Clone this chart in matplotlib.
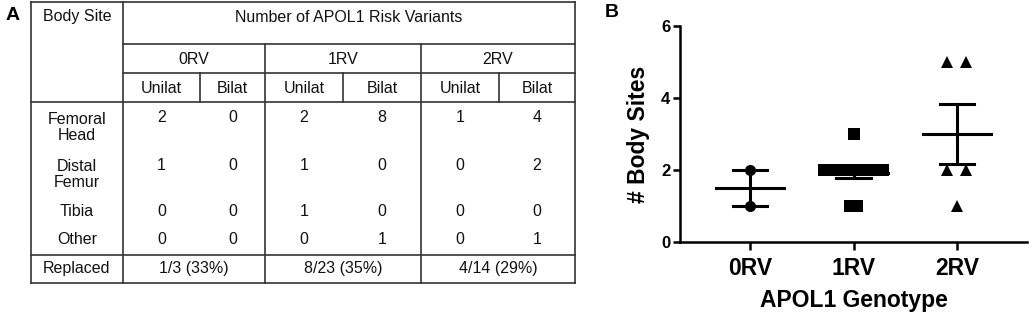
import numpy as np
import matplotlib
matplotlib.use("Agg")
import matplotlib.pyplot as plt

plt.rcParams['font.family'] = ['Liberation Sans', 'DejaVu Sans']

# ---------------- data ----------------
body_sites = ["Femoral\nHead", "Distal\nFemur", "Tibia", "Other"]
genotypes = ["0RV", "1RV", "2RV"]
laterality = ["Unilat", "Bilat"]
counts = [
    [2, 0, 2, 8, 1, 4],
    [1, 0, 1, 0, 0, 2],
    [0, 0, 1, 0, 0, 0],
    [0, 0, 0, 1, 0, 1],
]
replaced = ["1/3 (33%)", "8/23 (35%)", "4/14 (29%)"]

sites_0rv = [2, 1]
sites_1rv = [3, 2, 2, 2, 2, 2, 2, 2, 2, 2, 2, 1, 1]
sites_2rv = [5, 5, 2, 2, 1]
group_values = [sites_0rv, sites_1rv, sites_2rv]
group_markers = ["o", "s", "^"]
group_spacing = [0.0, 0.064, 0.18]

# ---------------- figure ----------------
W, H = 1029, 315
fig = plt.figure(figsize=(W / 100, H / 100), dpi=100)

# Panel A: table drawn in pixel coordinates
ax0 = fig.add_axes([0, 0, 1, 1])
ax0.set_xlim(0, W)
ax0.set_ylim(H, 0)
ax0.axis("off")

lc = "#333333"
lw = 1.2
L, R, T, B = 31, 575, 2, 283
c_site = 123
grp_x = [c_site, 265, 421, R]
sub_x = [200, 343, 499]
y_h1, y_h2, y_h3, y_rep = 44, 73, 102, 255

def hline(y, x0, x1):
    ax0.plot([x0, x1], [y, y], color=lc, lw=lw, solid_capstyle="projecting")

def vline(x, y0, y1):
    ax0.plot([x, x], [y0, y1], color=lc, lw=lw, solid_capstyle="projecting")

hline(T, L, R); hline(B, L, R); vline(L, T, B); vline(R, T, B)
vline(c_site, T, B)
hline(y_h1, c_site, R)
hline(y_h2, c_site, R)
hline(y_h3, L, R)
hline(y_rep, L, R)
for gx in grp_x[1:-1]:
    vline(gx, y_h1, B)
for sx in sub_x:
    vline(sx, y_h2, y_h3)

fs = 11.5
tkw = dict(fontsize=fs, color="#111111", ha="center", va="center")
ax0.text((L + c_site) / 2, 17, "Body Site", **tkw)
ax0.text((c_site + R) / 2, 17, "Number of APOL1 Risk Variants", **tkw)
sub_centers = []
for i, g in enumerate(genotypes):
    x0, x1 = grp_x[i], grp_x[i + 1]
    ax0.text((x0 + x1) / 2, 59, g, **tkw)
    edges = [x0, sub_x[i], x1]
    for j, lab in enumerate(laterality):
        cx = (edges[j] + edges[j + 1]) / 2
        sub_centers.append(cx)
        ax0.text(cx, 88.5, lab, **tkw)

y = 118
line_h = 19
for site, row in zip(body_sites, counts):
    nl = site.count("\n") + 1
    ax0.text((L + c_site) / 2, y + line_h * (nl - 1) / 2, site,
             linespacing=1.08, **tkw)
    for cx, v in zip(sub_centers, row):
        ax0.text(cx, y, str(v), **tkw)
    y += 28 + line_h * (nl - 1)

ax0.text((L + c_site) / 2, 269, "Replaced", **tkw)
for i, r in enumerate(replaced):
    ax0.text((grp_x[i] + grp_x[i + 1]) / 2, 269, r, **tkw)

ax0.text(13, 15, "A", fontsize=14, fontweight="bold", ha="center", va="center")
ax0.text(611.5, 12.5, "B", fontsize=14, fontweight="bold", ha="center", va="center")

# Panel B: scatter dot plot with mean +/- SEM
ax = fig.add_axes([680 / W, (H - 242) / H, 347 / W, 216 / H])
ax.patch.set_alpha(0)
for i, (vals, mk, sp) in enumerate(zip(group_values, group_markers, group_spacing)):
    vals = np.asarray(vals, dtype=float)
    xs = np.zeros_like(vals)
    for v in np.unique(vals):
        idx = np.where(vals == v)[0]
        n = len(idx)
        xs[idx] = i + (np.arange(n) - (n - 1) / 2) * sp
    ax.plot(xs, vals, linestyle="none", marker=mk, markersize=8,
            color="black", mew=0, zorder=3, clip_on=False)
    m = vals.mean()
    sem = vals.std(ddof=1) / np.sqrt(len(vals))
    ax.plot([i - 0.33, i + 0.33], [m, m], color="black", lw=2.2, zorder=4)
    ax.plot([i, i], [m - sem, m + sem], color="black", lw=2.2, zorder=4)
    for yy in (m - sem, m + sem):
        ax.plot([i - 0.165, i + 0.165], [yy, yy], color="black", lw=2.2, zorder=4)

ax.set_xlim(-0.68, 2.68)
ax.set_ylim(0, 6)
ax.set_yticks([0, 2, 4, 6])
ax.set_xticks(range(len(genotypes)))
ax.set_xticklabels(genotypes, fontsize=16.5, fontweight="bold")
for t in ax.get_yticklabels():
    t.set_fontsize(12)
    t.set_fontweight("bold")
for s in ["top", "right"]:
    ax.spines[s].set_visible(False)
for s in ["left", "bottom"]:
    ax.spines[s].set_linewidth(1.8)
ax.tick_params(axis="y", width=1.8, length=5, pad=2)
ax.tick_params(axis="x", width=1.8, length=6, pad=5)

fig.text(639 / W, 1 - 134 / H, "# Body Sites", rotation=90, fontsize=16.5,
         fontweight="bold", ha="center", va="center")
fig.text(853.5 / W, 1 - 300 / H, "APOL1 Genotype", fontsize=16.5,
         fontweight="bold", ha="center", va="center")

fig.savefig("out.png", dpi=100)
